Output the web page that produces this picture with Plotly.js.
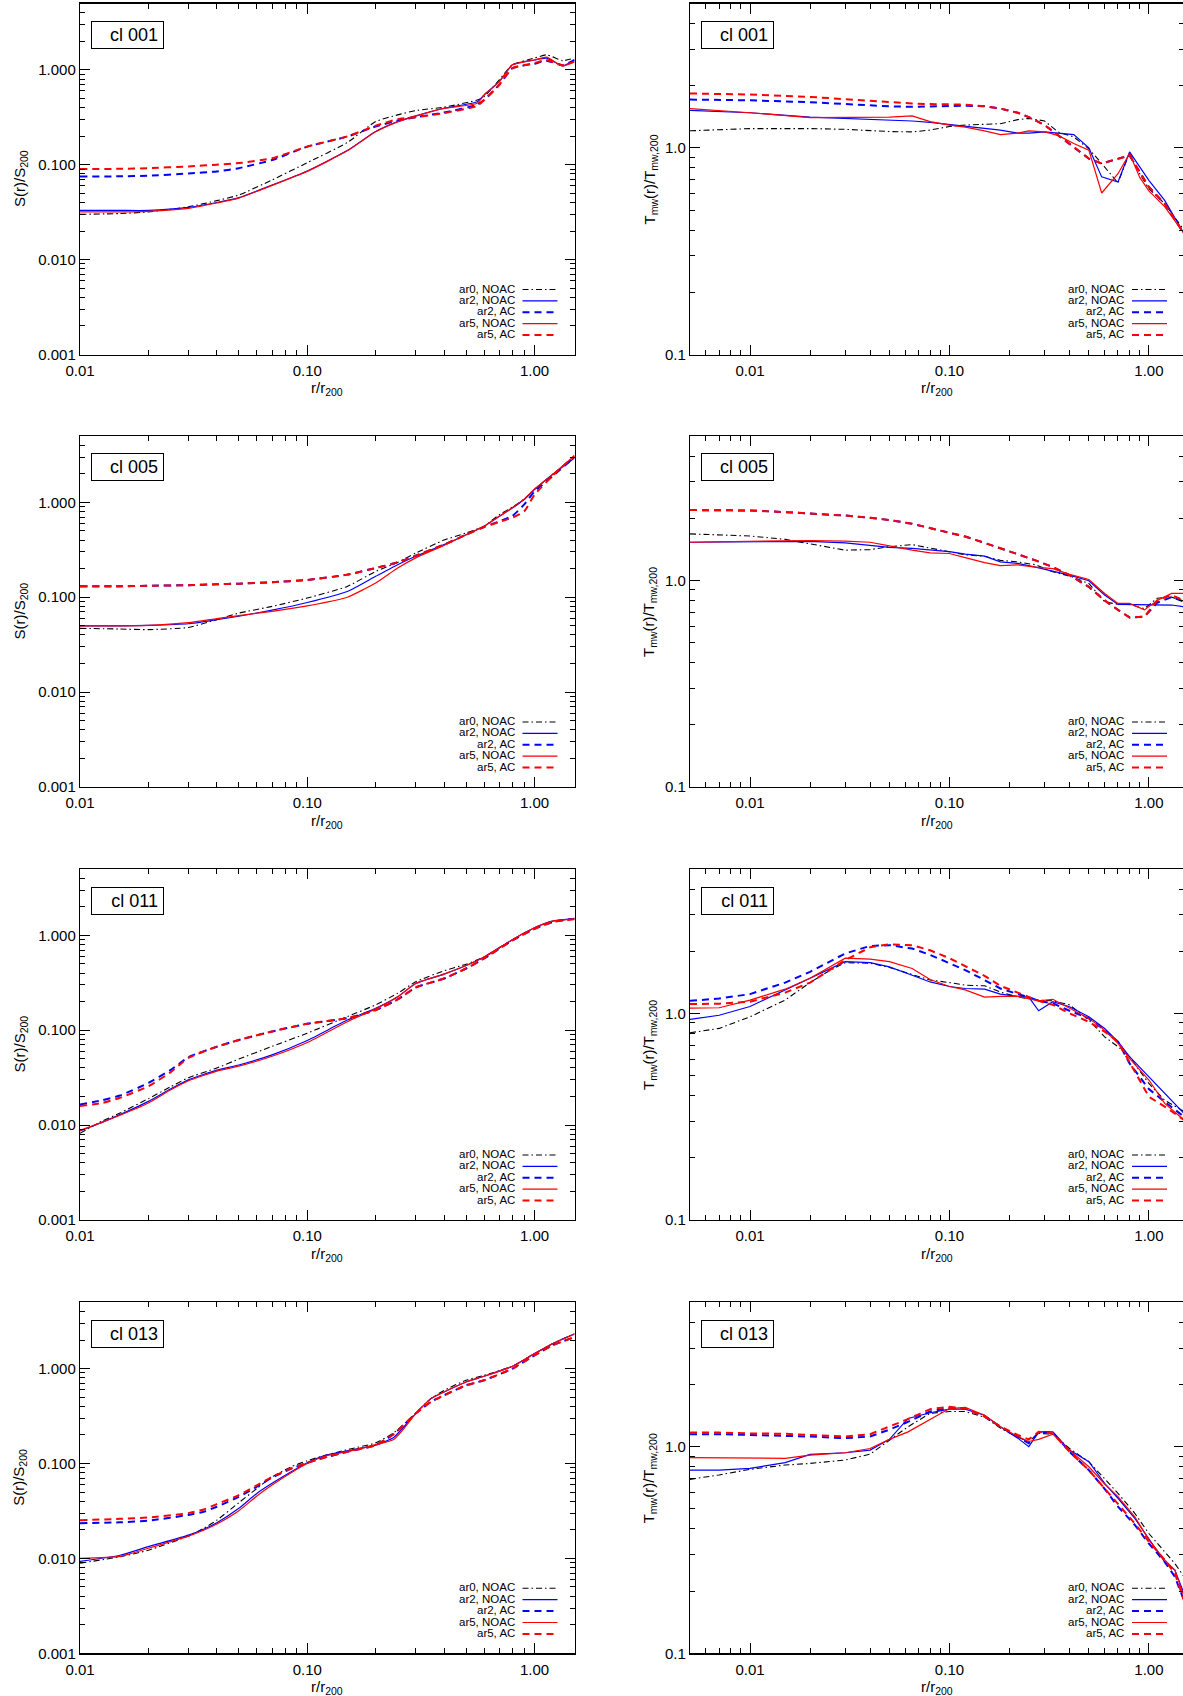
<!DOCTYPE html>
<html>
<head>
<meta charset="utf-8">
<script src="https://cdn.plot.ly/plotly-3.0.1.min.js"></script>
<style>
html, body { margin: 0; padding: 0; overflow: hidden; background: #ffffff; }
#chart { width: 1190px; height: 1696px; }
</style>
</head>
<body>
<div id="chart"></div>
<script>
// ---------------- DATA ----------------
const clusterNames = ['cl 001', 'cl 005', 'cl 011', 'cl 013'];
const seriesNames = ['ar0, NOAC', 'ar2, NOAC', 'ar2, AC', 'ar5, NOAC', 'ar5, AC'];

const xTickVals = [0.01, 0.1, 1];
const xTickText = ['0.01', '0.10', '1.00'];
const sTickVals = [0.001, 0.01, 0.1, 1];
const sTickText = ['0.001', '0.010', '0.100', '1.000'];
const tTickVals = [0.1, 1];
const tTickText = ['0.1', '1.0'];

// cl 001 entropy S(r)/S200
const r_S001 = [0.01, 0.015, 0.02, 0.03, 0.04, 0.05, 0.07, 0.1, 0.15, 0.2, 0.25, 0.3, 0.4, 0.56, 0.6, 0.7, 0.8, 1.0, 1.13, 1.33, 1.5];
const S001_ar0  = [0.030, 0.0306, 0.0318, 0.036, 0.0418, 0.048, 0.069, 0.105, 0.171, 0.285, 0.335, 0.372, 0.404, 0.48, 0.52, 0.785, 1.13, 1.33, 1.44, 1.25, 1.33];
const S001_ar2n = [0.033, 0.033, 0.033, 0.0355, 0.040, 0.045, 0.061, 0.086, 0.141, 0.224, 0.285, 0.327, 0.394, 0.46, 0.545, 0.75, 1.13, 1.27, 1.33, 1.10, 1.27];
const S001_ar2a = [0.075, 0.0755, 0.0767, 0.0807, 0.085, 0.092, 0.112, 0.155, 0.198, 0.253, 0.292, 0.317, 0.355, 0.428, 0.48, 0.695, 1.04, 1.16, 1.25, 1.12, 1.27];
const S001_ar5n = [0.0318, 0.0318, 0.0322, 0.0346, 0.0395, 0.0445, 0.0605, 0.085, 0.140, 0.222, 0.283, 0.325, 0.392, 0.445, 0.54, 0.75, 1.13, 1.27, 1.36, 1.10, 1.22];
const S001_ar5a = [0.090, 0.0905, 0.092, 0.096, 0.100, 0.104, 0.117, 0.155, 0.199, 0.257, 0.302, 0.317, 0.35, 0.417, 0.48, 0.695, 1.04, 1.18, 1.27, 1.12, 1.22];

// cl 001 temperature T_mw(r)/T_mw,200
const r_T001 = [0.005, 0.01, 0.02, 0.03, 0.05, 0.065, 0.08, 0.1, 0.12, 0.15, 0.18, 0.22, 0.25, 0.3, 0.35, 0.42, 0.5, 0.58, 0.7, 0.8, 0.9, 1.0, 1.2, 1.5];
const T001_ar0  = [1.21, 1.24, 1.24, 1.23, 1.20, 1.195, 1.22, 1.27, 1.29, 1.30, 1.31, 1.37, 1.39, 1.35, 1.195, 1.13, 0.99, 0.84, 0.677, 0.946, 0.75, 0.635, 0.537, 0.40];
const T001_ar2n = [1.52, 1.48, 1.41, 1.39, 1.36, 1.35, 1.33, 1.30, 1.28, 1.25, 1.22, 1.18, 1.18, 1.195, 1.18, 1.16, 1.0, 0.724, 0.684, 0.956, 0.81, 0.697, 0.557, 0.385];
const T001_ar2a = [1.714, 1.70, 1.665, 1.63, 1.59, 1.58, 1.59, 1.60, 1.60, 1.59, 1.55, 1.48, 1.41, 1.29, 1.15, 1.01, 0.888, 0.84, 0.888, 0.92, 0.765, 0.647, 0.537, 0.385];
const T001_ar5n = [1.55, 1.48, 1.40, 1.40, 1.41, 1.43, 1.34, 1.29, 1.26, 1.21, 1.16, 1.18, 1.21, 1.195, 1.15, 1.05, 0.975, 0.605, 0.75, 0.94, 0.72, 0.62, 0.52, 0.385];
const T001_ar5a = [1.834, 1.813, 1.766, 1.72, 1.67, 1.64, 1.63, 1.62, 1.62, 1.59, 1.55, 1.48, 1.41, 1.29, 1.15, 1.01, 0.888, 0.84, 0.888, 0.92, 0.765, 0.647, 0.537, 0.385];

// cl 005 entropy
const r_S005 = [0.01, 0.015, 0.02, 0.03, 0.04, 0.05, 0.07, 0.1, 0.15, 0.2, 0.25, 0.3, 0.4, 0.5, 0.6, 0.7, 0.8, 0.9, 1.0, 1.2, 1.5];
const S005_ar0  = [0.047, 0.0462, 0.0455, 0.048, 0.058, 0.068, 0.080, 0.098, 0.130, 0.187, 0.233, 0.292, 0.40, 0.475, 0.56, 0.74, 0.893, 1.08, 1.36, 1.96, 3.0];
const S005_ar2n = [0.050, 0.050, 0.0505, 0.0525, 0.058, 0.063, 0.073, 0.088, 0.115, 0.166, 0.22, 0.27, 0.358, 0.456, 0.56, 0.712, 0.87, 1.07, 1.36, 1.96, 2.93];
const S005_ar2a = [0.130, 0.130, 0.132, 0.134, 0.137, 0.139, 0.144, 0.152, 0.173, 0.203, 0.233, 0.274, 0.358, 0.456, 0.55, 0.63, 0.72, 0.945, 1.3, 1.88, 3.0];
const S005_ar5n = [0.050, 0.050, 0.0505, 0.054, 0.0595, 0.064, 0.071, 0.081, 0.10, 0.141, 0.203, 0.26, 0.352, 0.456, 0.56, 0.712, 0.88, 1.08, 1.38, 1.96, 3.1];
const S005_ar5a = [0.131, 0.131, 0.132, 0.134, 0.137, 0.139, 0.144, 0.152, 0.173, 0.203, 0.233, 0.274, 0.358, 0.456, 0.55, 0.62, 0.69, 0.80, 1.2, 1.9, 3.1];

// cl 005 temperature
const r_T005 = [0.005, 0.01, 0.015, 0.02, 0.03, 0.04, 0.05, 0.065, 0.08, 0.1, 0.12, 0.15, 0.18, 0.22, 0.27, 0.33, 0.4, 0.5, 0.6, 0.7, 0.8, 0.95, 1.1, 1.3, 1.5];
const T005_ar0  = [1.68, 1.64, 1.58, 1.50, 1.40, 1.41, 1.456, 1.49, 1.43, 1.377, 1.33, 1.31, 1.25, 1.23, 1.19, 1.10, 1.05, 0.967, 0.788, 0.765, 0.765, 0.73, 0.82, 0.83, 0.79];
const T005_ar2n = [1.53, 1.54, 1.545, 1.545, 1.52, 1.48, 1.445, 1.43, 1.40, 1.377, 1.34, 1.31, 1.23, 1.21, 1.16, 1.11, 1.06, 0.996, 0.85, 0.765, 0.765, 0.765, 0.765, 0.76, 0.745];
const T005_ar2a = [2.19, 2.18, 2.14, 2.11, 2.06, 2.01, 1.96, 1.88, 1.79, 1.70, 1.63, 1.52, 1.43, 1.34, 1.25, 1.16, 1.06, 0.93, 0.80, 0.72, 0.662, 0.667, 0.78, 0.83, 0.79];
const T005_ar5n = [1.53, 1.545, 1.55, 1.56, 1.55, 1.53, 1.47, 1.40, 1.36, 1.35, 1.29, 1.22, 1.18, 1.19, 1.16, 1.14, 1.07, 1.01, 0.865, 0.774, 0.774, 0.72, 0.80, 0.865, 0.865];
const T005_ar5a = [2.19, 2.18, 2.14, 2.11, 2.06, 2.01, 1.96, 1.88, 1.79, 1.70, 1.63, 1.52, 1.43, 1.34, 1.25, 1.16, 1.06, 0.93, 0.80, 0.72, 0.662, 0.667, 0.80, 0.85, 0.80];

// cl 011 entropy
const r_S011 = [0.01, 0.0125, 0.015, 0.02, 0.025, 0.03, 0.04, 0.05, 0.07, 0.1, 0.15, 0.2, 0.25, 0.3, 0.4, 0.5, 0.6, 0.8, 1.0, 1.2, 1.5];
const S011_ar0  = [0.0082, 0.011, 0.0134, 0.019, 0.0253, 0.0316, 0.040, 0.0497, 0.0675, 0.093, 0.139, 0.185, 0.245, 0.324, 0.423, 0.496, 0.59, 0.90, 1.20, 1.41, 1.50];
const S011_ar2n = [0.0087, 0.0107, 0.0129, 0.0178, 0.0240, 0.030, 0.038, 0.043, 0.055, 0.078, 0.128, 0.170, 0.225, 0.311, 0.39, 0.48, 0.59, 0.90, 1.20, 1.41, 1.50];
const S011_ar2a = [0.0165, 0.0183, 0.0205, 0.0278, 0.038, 0.052, 0.067, 0.079, 0.097, 0.117, 0.134, 0.163, 0.211, 0.282, 0.351, 0.447, 0.57, 0.886, 1.17, 1.38, 1.50];
const S011_ar5n = [0.0088, 0.0107, 0.0127, 0.0171, 0.0234, 0.0293, 0.0371, 0.0418, 0.0531, 0.0742, 0.123, 0.168, 0.225, 0.311, 0.39, 0.48, 0.59, 0.90, 1.20, 1.41, 1.48];
const S011_ar5a = [0.0159, 0.0171, 0.0194, 0.0257, 0.036, 0.051, 0.067, 0.079, 0.097, 0.117, 0.134, 0.163, 0.211, 0.282, 0.351, 0.447, 0.57, 0.886, 1.17, 1.38, 1.48];

// cl 011 temperature
const r_T011 = [0.005, 0.007, 0.01, 0.015, 0.02, 0.025, 0.03, 0.04, 0.05, 0.065, 0.08, 0.1, 0.12, 0.15, 0.18, 0.22, 0.25, 0.28, 0.33, 0.4, 0.5, 0.6, 0.7, 0.8, 1.0, 1.2, 1.5];
const T011_ar0  = [0.806, 0.846, 0.963, 1.16, 1.41, 1.61, 1.76, 1.75, 1.67, 1.55, 1.45, 1.41, 1.37, 1.36, 1.27, 1.20, 1.18, 1.16, 1.15, 1.10, 0.93, 0.77, 0.69, 0.617, 0.458, 0.38, 0.335];
const T011_ar2n = [0.935, 0.98, 1.08, 1.30, 1.48, 1.65, 1.78, 1.76, 1.68, 1.53, 1.42, 1.35, 1.32, 1.31, 1.24, 1.21, 1.20, 1.03, 1.14, 1.077, 0.963, 0.846, 0.73, 0.617, 0.494, 0.41, 0.328];
const T011_ar2a = [1.15, 1.18, 1.24, 1.41, 1.59, 1.78, 1.95, 2.12, 2.14, 2.06, 1.92, 1.75, 1.62, 1.45, 1.32, 1.24, 1.20, 1.15, 1.12, 1.03, 0.946, 0.83, 0.73, 0.573, 0.43, 0.374, 0.316];
const T011_ar5n = [1.06, 1.065, 1.16, 1.31, 1.48, 1.68, 1.85, 1.83, 1.78, 1.65, 1.46, 1.35, 1.30, 1.20, 1.21, 1.21, 1.18, 1.15, 1.17, 1.06, 0.946, 0.83, 0.716, 0.606, 0.476, 0.367, 0.305];
const T011_ar5a = [1.11, 1.115, 1.14, 1.26, 1.41, 1.62, 1.81, 2.09, 2.16, 2.14, 2.02, 1.85, 1.69, 1.52, 1.36, 1.26, 1.20, 1.15, 1.10, 1.0, 0.91, 0.815, 0.73, 0.58, 0.395, 0.354, 0.305];

// cl 013 entropy
const r_S013 = [0.01, 0.015, 0.02, 0.03, 0.035, 0.04, 0.05, 0.06, 0.07, 0.085, 0.1, 0.12, 0.15, 0.2, 0.24, 0.27, 0.3, 0.35, 0.4, 0.5, 0.6, 0.8, 1.0, 1.2, 1.5];
const S013_ar0  = [0.0089, 0.0104, 0.0122, 0.0172, 0.0207, 0.0253, 0.0386, 0.0546, 0.0723, 0.0925, 0.107, 0.122, 0.14, 0.165, 0.21, 0.268, 0.341, 0.483, 0.59, 0.754, 0.85, 1.06, 1.44, 1.83, 2.33];
const S013_ar2n = [0.0093, 0.0108, 0.0133, 0.0176, 0.0203, 0.0237, 0.0337, 0.0484, 0.0618, 0.0818, 0.1017, 0.122, 0.136, 0.156, 0.188, 0.253, 0.336, 0.483, 0.568, 0.724, 0.83, 1.06, 1.44, 1.83, 2.33];
const S013_ar2a = [0.0235, 0.024, 0.025, 0.0287, 0.031, 0.035, 0.0445, 0.057, 0.071, 0.0885, 0.1017, 0.116, 0.133, 0.156, 0.204, 0.264, 0.336, 0.446, 0.524, 0.667, 0.754, 1.0, 1.38, 1.76, 2.15];
const S013_ar5n = [0.010, 0.0105, 0.0128, 0.0172, 0.0198, 0.0230, 0.0318, 0.0455, 0.0594, 0.080, 0.10, 0.12, 0.133, 0.158, 0.179, 0.243, 0.336, 0.483, 0.568, 0.724, 0.83, 1.06, 1.44, 1.83, 2.3];
const S013_ar5a = [0.0253, 0.0261, 0.027, 0.030, 0.0328, 0.0373, 0.0464, 0.059, 0.0723, 0.0885, 0.1017, 0.116, 0.133, 0.156, 0.204, 0.264, 0.336, 0.446, 0.524, 0.667, 0.754, 1.0, 1.38, 1.76, 2.15];

// cl 013 temperature
const r_T013 = [0.005, 0.007, 0.01, 0.015, 0.02, 0.03, 0.04, 0.05, 0.062, 0.08, 0.1, 0.12, 0.15, 0.18, 0.22, 0.25, 0.28, 0.33, 0.4, 0.5, 0.6, 0.7, 0.85, 1.0, 1.2, 1.35, 1.5];
const T013_ar0  = [0.695, 0.73, 0.777, 0.815, 0.83, 0.862, 0.92, 1.077, 1.25, 1.45, 1.48, 1.48, 1.39, 1.23, 1.11, 1.06, 1.16, 1.15, 0.98, 0.846, 0.70, 0.595, 0.476, 0.38, 0.31, 0.272, 0.235];
const T013_ar2n = [0.771, 0.771, 0.786, 0.837, 0.918, 0.935, 0.963, 1.085, 1.37, 1.46, 1.52, 1.52, 1.42, 1.25, 1.10, 1.0, 1.18, 1.18, 0.963, 0.846, 0.665, 0.563, 0.45, 0.36, 0.277, 0.253, 0.195];
const T013_ar2a = [1.15, 1.15, 1.14, 1.13, 1.12, 1.10, 1.12, 1.21, 1.32, 1.48, 1.54, 1.53, 1.40, 1.25, 1.12, 1.04, 1.17, 1.17, 0.946, 0.77, 0.625, 0.513, 0.418, 0.34, 0.277, 0.235, 0.18];
const T013_ar5n = [0.885, 0.885, 0.878, 0.878, 0.911, 0.935, 0.98, 1.085, 1.18, 1.35, 1.53, 1.55, 1.42, 1.25, 1.12, 1.06, 1.085, 1.15, 0.963, 0.80, 0.66, 0.573, 0.458, 0.354, 0.283, 0.253, 0.188];
const T013_ar5a = [1.17, 1.17, 1.16, 1.155, 1.14, 1.12, 1.15, 1.25, 1.36, 1.52, 1.56, 1.53, 1.40, 1.25, 1.14, 1.085, 1.18, 1.16, 0.946, 0.77, 0.63, 0.528, 0.425, 0.347, 0.283, 0.244, 0.18];

// ---------------- BUILD ----------------
const panels = [
  {name: clusterNames[0], kind: 'S', x: r_S001, ys: [S001_ar0, S001_ar2n, S001_ar2a, S001_ar5n, S001_ar5a]},
  {name: clusterNames[0], kind: 'T', x: r_T001, ys: [T001_ar0, T001_ar2n, T001_ar2a, T001_ar5n, T001_ar5a]},
  {name: clusterNames[1], kind: 'S', x: r_S005, ys: [S005_ar0, S005_ar2n, S005_ar2a, S005_ar5n, S005_ar5a]},
  {name: clusterNames[1], kind: 'T', x: r_T005, ys: [T005_ar0, T005_ar2n, T005_ar2a, T005_ar5n, T005_ar5a]},
  {name: clusterNames[2], kind: 'S', x: r_S011, ys: [S011_ar0, S011_ar2n, S011_ar2a, S011_ar5n, S011_ar5a]},
  {name: clusterNames[2], kind: 'T', x: r_T011, ys: [T011_ar0, T011_ar2n, T011_ar2a, T011_ar5n, T011_ar5a]},
  {name: clusterNames[3], kind: 'S', x: r_S013, ys: [S013_ar0, S013_ar2n, S013_ar2a, S013_ar5n, S013_ar5a]},
  {name: clusterNames[3], kind: 'T', x: r_T013, ys: [T013_ar0, T013_ar2n, T013_ar2a, T013_ar5n, T013_ar5a]},
];

const styles = [
  {color: '#000000', width: 1.1, dash: '6px,3px,1.5px,3px'},
  {color: '#0000ff', width: 1.2, dash: 'solid'},
  {color: '#0000ff', width: 2.0, dash: '7px,5px'},
  {color: '#ff0000', width: 1.2, dash: 'solid'},
  {color: '#ff0000', width: 2.0, dash: '7px,5px'},
];

const W = 1190, H = 1696;
const colX = [[80, 574.5], [690, 1184]];
const rowTop = [3.5, 436, 869, 1302.3];
const rowH = 351;
const FONT = 'Liberation Sans, Arial, Helvetica, sans-serif';

function minorVals(lo, hi, vmin, vmax) {
  const v = [];
  for (let e = lo; e <= hi; e++) {
    for (let k = 2; k <= 9; k++) {
      const val = parseFloat((k * Math.pow(10, e)).toPrecision(6));
      if (val >= vmin && val <= vmax) v.push(val);
    }
  }
  return v;
}

const px = v => v / W;
const py = v => 1 - v / H;

const traces = [];
const layout = {
  width: W, height: H,
  margin: {l: 0, r: 0, t: 0, b: 0},
  paper_bgcolor: '#ffffff',
  plot_bgcolor: '#ffffff',
  showlegend: false,
  font: {family: FONT, color: '#000000', size: 15},
  annotations: [],
  shapes: []
};

panels.forEach((p, i) => {
  const row = Math.floor(i / 2), col = i % 2;
  const k = i + 1;
  const xa = 'x' + (k === 1 ? '' : k), ya = 'y' + (k === 1 ? '' : k);
  const xl = colX[col][0], xr = colX[col][1];
  const top = rowTop[row], bot = rowTop[row] + rowH;
  const xmin = p.kind === 'S' ? 0.01 : 0.005;
  const ymin = p.kind === 'S' ? 0.001 : 0.1;

  p.ys.forEach((y, s) => {
    traces.push({
      type: 'scatter', mode: 'lines', x: p.x, y: y,
      xaxis: xa, yaxis: ya, name: seriesNames[s],
      line: {color: styles[s].color, width: styles[s].width, dash: styles[s].dash,
             shape: p.kind === 'S' ? 'spline' : 'linear', smoothing: 0.5},
      hoverinfo: 'skip'
    });
  });

  const common = {
    type: 'log', showgrid: false, zeroline: false, showline: true,
    linecolor: '#000000', linewidth: 1.2, mirror: 'allticks',
    ticks: 'inside', ticklen: 10, tickwidth: 1, tickcolor: '#000000',
    tickfont: {family: FONT, size: 15, color: '#000000'},
    tickmode: 'array', fixedrange: true
  };
  layout['xaxis' + (k === 1 ? '' : k)] = Object.assign({}, common, {
    domain: [px(xl), px(xr)], anchor: ya,
    range: [Math.log10(xmin), Math.log10(1.5)],
    tickvals: xTickVals, ticktext: xTickText,
    ticklabelstandoff: 2,
    minor: {tickmode: 'array', tickvals: minorVals(-3, 0, xmin, 1.5), ticks: 'inside', ticklen: 5, tickwidth: 1, tickcolor: '#000000', showgrid: false}
  });
  layout['yaxis' + (k === 1 ? '' : k)] = Object.assign({}, common, {
    domain: [py(bot), py(top)], anchor: xa,
    range: [Math.log10(ymin), Math.log10(5)],
    tickvals: p.kind === 'S' ? sTickVals : tTickVals,
    ticktext: p.kind === 'S' ? sTickText : tTickText,
    minor: {tickmode: 'array', tickvals: minorVals(-3, 0, ymin, 5), ticks: 'inside', ticklen: 5, tickwidth: 1, tickcolor: '#000000', showgrid: false}
  });

  // cluster label box
  layout.annotations.push({
    xref: 'paper', yref: 'paper', x: px(xl + 11.4), y: py(top + 17.5),
    xanchor: 'left', yanchor: 'top', showarrow: false,
    text: p.name, font: {family: FONT, size: 18, color: '#000000'},
    bordercolor: '#000000', borderwidth: 1, borderpad: 5,
    width: 61, height: 16, align: 'right', bgcolor: '#ffffff'
  });
  // y title
  layout.annotations.push({
    xref: 'paper', yref: 'paper',
    x: px(col === 0 ? 20 : 649.5), y: py((top + bot) / 2),
    xanchor: 'center', yanchor: 'middle', showarrow: false, textangle: -90,
    text: p.kind === 'S' ? 'S(r)/S<sub>200</sub>' : 'T<sub>mw</sub>(r)/T<sub>mw,200</sub>',
    font: {family: FONT, size: 15, color: '#000000'}
  });
  // x title
  layout.annotations.push({
    xref: 'paper', yref: 'paper',
    x: px((xl + xr) / 2), y: py(bot + 34),
    xanchor: 'center', yanchor: 'middle', showarrow: false,
    text: 'r/r<sub>200</sub>',
    font: {family: FONT, size: 15, color: '#000000'}
  });
  // legend
  const legOff = [66, 54.6, 43.2, 31.8, 20.4];
  seriesNames.forEach((nm, s) => {
    const yy = bot - legOff[s];
    layout.annotations.push({
      xref: 'paper', yref: 'paper', x: px(xr - 58), y: py(yy),
      xanchor: 'right', yanchor: 'middle', showarrow: false,
      text: nm, font: {family: FONT, size: 11.5, color: '#000000'}
    });
    layout.shapes.push({
      type: 'line', xref: 'paper', yref: 'paper',
      x0: px(xr - 52), x1: px(xr - 17), y0: py(yy + 1), y1: py(yy + 1),
      line: {color: styles[s].color, width: styles[s].width, dash: styles[s].dash}
    });
  });
});

Plotly.newPlot('chart', traces, layout, {displayModeBar: false, staticPlot: true});
</script>
</body>
</html>
